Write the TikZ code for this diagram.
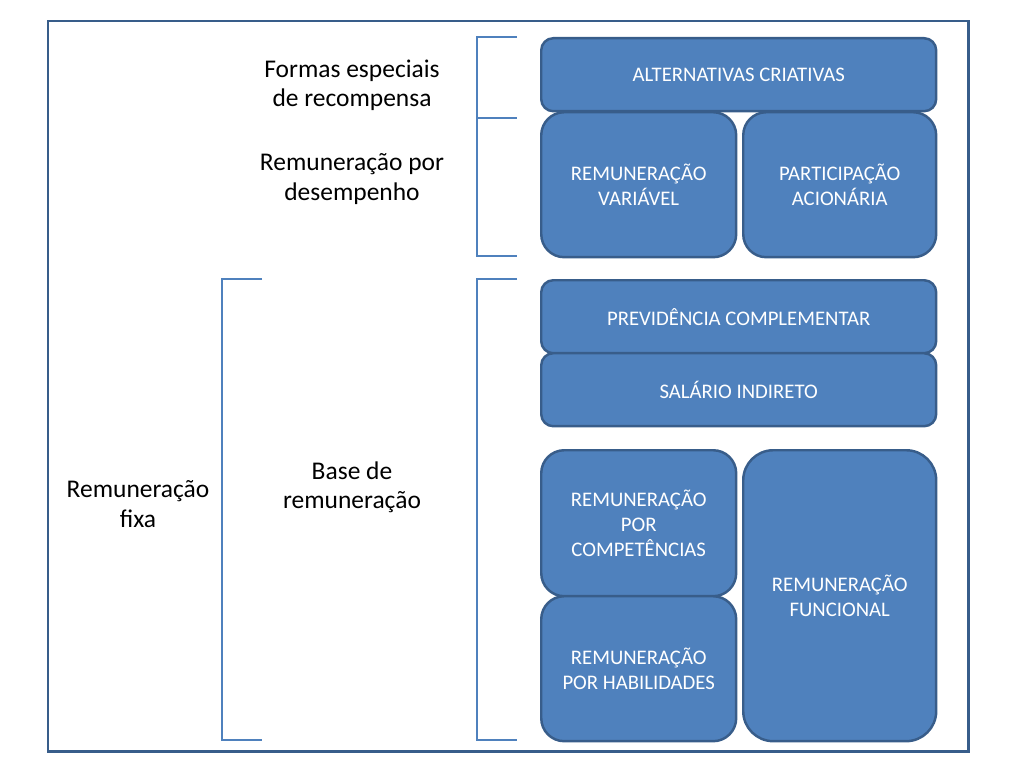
\documentclass[tikz,border=0pt]{standalone}
\usepackage{fontspec}
\setmainfont{Carlito}
\usepackage{tikz}

\definecolor{boxfill}{HTML}{4F81BD}
\definecolor{boxline}{HTML}{385D8A}

\tikzset{
    card/.style={draw=boxline, line width=1.4pt, fill=boxfill, text=white, align=center,
        anchor=north west, inner sep=0pt, font=\fontsize{11.8}{14.2}\selectfont},
    smallcard/.style={card, rounded corners=0.24cm},
    bigcard/.style={card, rounded corners=0.46cm},
    brace/.style={draw=boxfill, line width=0.7pt},
    label/.style={align=center, font=\fontsize{14.5}{16.6}\selectfont}
}

\begin{document}
\begin{tikzpicture}[x=0.02cm, y=-0.02cm]
            \useasboundingbox (0, 0) rectangle (1011, 767);
            \draw [boxline, line width=1.7pt] (48, 21) rectangle (968, 751);

            \node [smallcard, minimum width=7.9cm, minimum height=1.46cm] (alternativas) at (540, 37) {ALTERNATIVAS CRIATIVAS};
            \node [bigcard, minimum width=3.9cm, minimum height=2.9cm] (variavel) at (540, 111) {REMUNERAÇÃO\\VARIÁVEL};
            \node [bigcard, minimum width=3.86cm, minimum height=2.9cm] (acionaria) at (742, 111) {PARTICIPAÇÃO\\ACIONÁRIA};

            \node [smallcard, minimum width=7.9cm, minimum height=1.46cm] (previdencia) at (540, 279) {PREVIDÊNCIA COMPLEMENTAR};
            \node [smallcard, minimum width=7.9cm, minimum height=1.46cm] (indireto) at (540, 352) {SALÁRIO INDIRETO};

            \node [bigcard, minimum width=3.9cm, minimum height=2.92cm] (competencias) at (540, 449) {REMUNERAÇÃO\\POR\\COMPETÊNCIAS};
            \node [bigcard, minimum width=3.9cm, minimum height=2.9cm] (habilidades) at (540, 595) {REMUNERAÇÃO\\POR HABILIDADES};
            \node [bigcard, rounded corners=0.6cm, minimum width=3.86cm, minimum height=5.82cm] (funcional) at (742, 449) {REMUNERAÇÃO\\FUNCIONAL};

            % chaves
            \draw [brace] (517, 37) -- (477, 37) -- (477, 256) -- (517, 256);
            \draw [brace] (477, 118) -- (517, 118);
            \draw [brace] (517, 279) -- (477, 279) -- (477, 740) -- (517, 740);
            \draw [brace] (262, 279) -- (222, 279) -- (222, 740) -- (262, 740);

            \node [label] (formas) at (352, 85) {Formas especiais\\de recompensa};
            \node [label] (desempenho) at (352, 179) {Remuneração por\\desempenho};
            \node [label] (base) at (352, 487) {Base de\\remuneração};
            \node [label] (fixa) at (138, 504) {Remuneração\\fixa};

        \end{tikzpicture}
\end{document}
